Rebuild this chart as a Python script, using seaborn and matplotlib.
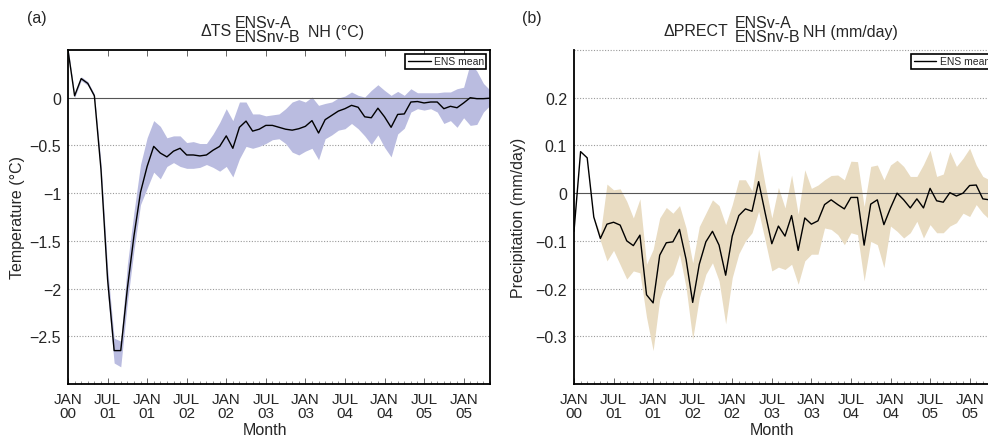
import pandas as pd
import matplotlib
matplotlib.use('Agg')
import matplotlib.pyplot as plt
import seaborn as sns
from matplotlib.ticker import MultipleLocator

W, H = 988, 439

# monthly index, JAN 00 = 0
month = list(range(65))

# panel (a): surface temperature difference, NH (°C)
ts_mean = [0.50, 0.02, 0.20, 0.15, 0.02, -0.75, -1.90, -2.65, -2.65, -2.00,
           -1.45, -0.99, -0.72, -0.51, -0.58, -0.62, -0.56, -0.53, -0.60, -0.60,
           -0.61, -0.60, -0.55, -0.51, -0.40, -0.53, -0.31, -0.245, -0.35, -0.33,
           -0.29, -0.29, -0.31, -0.33, -0.34, -0.325, -0.30, -0.24, -0.37, -0.23,
           -0.185, -0.14, -0.115, -0.08, -0.10, -0.20, -0.21, -0.11, -0.20, -0.31,
           -0.175, -0.17, -0.045, -0.04, -0.055, -0.045, -0.045, -0.115, -0.09, -0.105,
           -0.055, 0.0, -0.01, -0.01, -0.005]
ts_low = [0.48, 0.0, 0.18, 0.13, 0.0, -0.85, -2.05, -2.78, -2.82, -2.15,
          -1.60, -1.12, -0.95, -0.78, -0.85, -0.72, -0.68, -0.72, -0.74, -0.74,
          -0.73, -0.70, -0.73, -0.77, -0.72, -0.83, -0.64, -0.51, -0.53, -0.51,
          -0.48, -0.44, -0.43, -0.48, -0.57, -0.60, -0.56, -0.53, -0.65, -0.43,
          -0.39, -0.34, -0.325, -0.27, -0.325, -0.40, -0.49, -0.39, -0.52, -0.62,
          -0.38, -0.32, -0.15, -0.115, -0.13, -0.115, -0.15, -0.27, -0.24, -0.31,
          -0.21, -0.29, -0.28, -0.15, -0.08]
ts_high = [0.52, 0.04, 0.22, 0.17, 0.04, -0.68, -1.78, -2.52, -2.55, -1.75,
           -1.20, -0.70, -0.42, -0.24, -0.30, -0.42, -0.40, -0.40, -0.47, -0.46,
           -0.48, -0.48, -0.38, -0.26, -0.115, -0.24, -0.045, -0.045, -0.17, -0.17,
           -0.19, -0.18, -0.17, -0.115, -0.045, -0.02, -0.045, 0.007, -0.08, -0.06,
           -0.045, -0.003, 0.017, 0.06, 0.025, 0.007, 0.077, 0.136, 0.077, 0.025,
           0.066, 0.025, 0.094, 0.052, 0.052, 0.052, 0.052, 0.06, 0.06, 0.094,
           0.11, 0.36, 0.28, 0.15, 0.08]

# panel (b): precipitation difference, NH (mm/day)
pr_mean = [-0.08, 0.087, 0.074, -0.05, -0.095, -0.065, -0.061, -0.067, -0.10, -0.11,
           -0.088, -0.213, -0.23, -0.13, -0.104, -0.102, -0.076, -0.139, -0.229, -0.149,
           -0.102, -0.08, -0.109, -0.172, -0.09, -0.047, -0.033, -0.038, 0.024, -0.042,
           -0.106, -0.069, -0.09, -0.047, -0.12, -0.052, -0.065, -0.058, -0.024, -0.014,
           -0.024, -0.033, -0.009, -0.009, -0.109, -0.023, -0.014, -0.066, -0.031, 0.0,
           -0.014, -0.031, -0.012, -0.031, 0.01, -0.016, -0.019, 0.001, -0.006, 0.0,
           0.016, 0.017, -0.012, -0.014, -0.014]
pr_low = [-0.08, 0.087, 0.074, -0.05, -0.10, -0.142, -0.12, -0.15, -0.18, -0.163,
          -0.167, -0.26, -0.33, -0.222, -0.184, -0.17, -0.128, -0.198, -0.306, -0.219,
          -0.17, -0.146, -0.184, -0.274, -0.177, -0.127, -0.10, -0.083, -0.038, -0.10,
          -0.163, -0.155, -0.16, -0.149, -0.191, -0.142, -0.128, -0.128, -0.073, -0.076,
          -0.087, -0.108, -0.083, -0.087, -0.184, -0.101, -0.108, -0.156, -0.069, -0.08,
          -0.094, -0.083, -0.059, -0.094, -0.066, -0.083, -0.083, -0.069, -0.062, -0.042,
          -0.049, -0.024, -0.042, -0.055, -0.06]
pr_high = [-0.08, 0.087, 0.074, -0.05, -0.085, 0.019, 0.007, 0.009, -0.017, -0.052,
           -0.012, -0.149, -0.118, -0.052, -0.03, -0.042, -0.026, -0.073, -0.146, -0.07,
           -0.042, -0.014, -0.026, -0.066, -0.024, 0.028, 0.028, 0.005, 0.093, 0.017,
           -0.052, 0.012, -0.031, 0.038, -0.044, 0.049, 0.010, 0.017, 0.028, 0.037,
           0.038, 0.028, 0.067, 0.066, -0.028, 0.056, 0.059, 0.028, 0.059, 0.069,
           0.056, 0.035, 0.035, 0.06, 0.09, 0.035, 0.04, 0.087, 0.056, 0.073,
           0.094, 0.059, 0.035, 0.028, 0.02]

tick_months = [0, 6, 12, 18, 24, 30, 36, 42, 48, 54, 60]
tick_labels = ["JAN\n00", "JUL\n01", "JAN\n01", "JUL\n02", "JAN\n02", "JUL\n03",
               "JAN\n03", "JUL\n04", "JAN\n04", "JUL\n05", "JAN\n05"]

ts_yticks = [-2.5, -2, -1.5, -1, -0.5, 0]
ts_ylabels = ["\u22122.5", "\u22122", "\u22121.5", "\u22121", "\u22120.5", "0"]
pr_yticks = [-0.3, -0.2, -0.1, 0, 0.1, 0.2]
pr_ylabels = ["\u22120.3", "\u22120.2", "\u22120.1", "0", "0.1", "0.2"]

sns.set_theme(style="white")
plt.rcParams['font.family'] = ['Liberation Sans', 'DejaVu Sans']

fig = plt.figure(figsize=(W / 100, H / 100), dpi=100)


def px_axes(l, t, r, b):
    return fig.add_axes([l / W, 1 - b / H, (r - l) / W, (b - t) / H])


def px_text(x, y, s, **kw):
    fig.text(x / W, 1 - y / H, s, **kw)


def draw_panel(ax, mean, low, high, band_color, ylim, yticks, ylabels, grid_vals):
    df = pd.DataFrame({'month': month, 'mean': mean})
    ax.fill_between(month, low, high, color=band_color, lw=0, zorder=1)
    for g in grid_vals:
        ax.axhline(g, color='#9a9a9a', lw=0.8, ls=(0, (1, 1.5)), zorder=0, clip_on=False)
    ax.axhline(0, color='#555555', lw=0.8, zorder=2)
    sns.lineplot(data=df, x='month', y='mean', ax=ax, color='black', lw=1.0,
                 label='ENS mean', zorder=3)
    ax.set_xlim(0, 64)
    ax.set_ylim(*ylim)
    ax.set_xticks(tick_months)
    ax.set_xticklabels(tick_labels, linespacing=0.95)
    ax.xaxis.set_minor_locator(MultipleLocator(1))
    ax.set_yticks(yticks)
    ax.set_yticklabels(ylabels)
    ax.set_xlabel('')
    ax.set_ylabel('')
    ax.tick_params(axis='x', which='major', direction='in', length=4, width=0.7,
                   bottom=True, labelsize=11, pad=6, color='#666666')
    ax.tick_params(axis='x', which='minor', direction='in', length=2, width=0.5,
                   bottom=True, top=False, color='#666666')
    ax.tick_params(axis='y', length=0, labelsize=11.5, pad=5)
    for s in ax.spines.values():
        s.set_color('black')
        s.set_linewidth(1.3)
    leg = ax.legend(loc='upper right', fontsize=7.5, frameon=True, fancybox=False,
                    edgecolor='black', framealpha=1, borderpad=0.25, handlelength=2.2,
                    handletextpad=0.3, borderaxespad=0.35)
    leg.get_frame().set_linewidth(1.2)


ax1 = px_axes(68, 51, 490, 385)
ax2 = px_axes(574, 51, 996, 385)

draw_panel(ax1, ts_mean, ts_low, ts_high, '#babce0', (-3.0, 0.5),
           ts_yticks, ts_ylabels, [-2.5, -2, -1.5, -1, -0.5])
ax1.tick_params(axis='x', which='major', top=True)

draw_panel(ax2, pr_mean, pr_low, pr_high, '#e9dcc2', (-0.4, 0.3),
           pr_yticks, pr_ylabels, [-0.3, -0.2, -0.1, 0.1, 0.2, 0.3])
ax2.spines['top'].set_visible(False)

# panel labels and titles
px_text(37, 18, "(a)", fontsize=11.5, ha='center', va='center')
px_text(532, 18, "(b)", fontsize=11.5, ha='center', va='center')

px_text(200, 32, "\u0394TS", fontsize=11.5, ha='left', va='center')
px_text(235, 23, "ENSv-A", fontsize=11.5, ha='left', va='center')
px_text(235, 38, "ENSnv-B", fontsize=11.5, ha='left', va='center')
px_text(308, 32, "NH (\u00b0C)", fontsize=11.5, ha='left', va='center')

px_text(663, 32, "\u0394PRECT", fontsize=11.5, ha='left', va='center')
px_text(735, 23, "ENSv-A", fontsize=11.5, ha='left', va='center')
px_text(735, 38, "ENSnv-B", fontsize=11.5, ha='left', va='center')
px_text(803, 32, "NH (mm/day)", fontsize=11.5, ha='left', va='center')

px_text(18, 218, "Temperature (\u00b0C)", fontsize=11.5, ha='center', va='center', rotation=90)
px_text(518, 218, "Precipitation (mm/day)", fontsize=11.5, ha='center', va='center', rotation=90)
px_text(265, 431, "Month", fontsize=11.5, ha='center', va='center')
px_text(772, 431, "Month", fontsize=11.5, ha='center', va='center')

fig.savefig("out.png", dpi=100)
